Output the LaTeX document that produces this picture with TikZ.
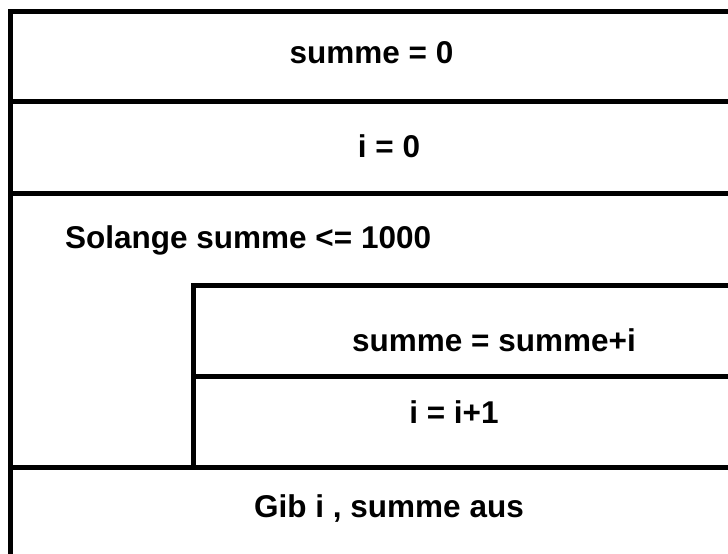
\documentclass[tikz,border=0pt]{standalone}
\usepackage{fontspec}
\setmainfont{Liberation Sans}
\begin{document}
\begin{tikzpicture}[x=1pt,y=-1pt,
  rule/.style={line width=5pt,line cap=butt,line join=miter},
  stmt/.style={font=\fontsize{31.5}{36}\selectfont\bfseries,inner sep=0pt,anchor=base}]
  \useasboundingbox (0,0) rectangle (728,554);
  % outer block frame (runs off the page at the right and bottom)
  \draw[rule] (10.5,560) -- (10.5,11.5) -- (740,11.5);
  % separators between the top-level statements
  \draw[rule] (10.5,101.5) -- (740,101.5);
  \draw[rule] (10.5,193.5) -- (740,193.5);
  \draw[rule] (10.5,467) -- (740,467);
  % loop body block
  \draw[rule] (193.5,467) -- (193.5,285.5) -- (740,285.5);
  \draw[rule] (193.5,376.5) -- (740,376.5);
  % statements
  \node[stmt] (init1) at (371.5,63.5) {summe = 0};
  \node[stmt] (init2) at (389,157) {i = 0};
  \node[stmt,anchor=base west] (loop) at (65,248) {Solange summe <= 1000};
  \node[stmt] (body1) at (494,351) {summe = summe+i};
  \node[stmt] (body2) at (454,423.5) {i = i+1};
  \node[stmt] (out) at (389,517) {Gib i , summe aus};
\end{tikzpicture}
\end{document}
